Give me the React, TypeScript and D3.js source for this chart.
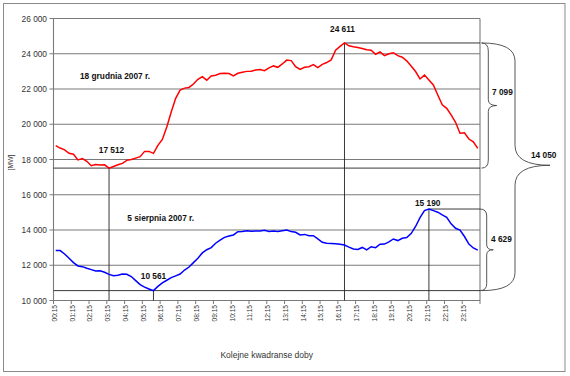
import React from "react";
import * as d3 from "d3";

// ---- data ----
const quarterHours: string[] = (() => {
  const out: string[] = [];
  for (let h = 0; h < 24; h++) {
    for (const m of [15, 30, 45, 60]) {
      const hh = m === 60 ? h + 1 : h;
      const mm = m === 60 ? 0 : m;
      out.push(`${String(hh).padStart(2, "0")}:${String(mm).padStart(2, "0")}`);
    }
  }
  return out;
})();

const xTickLabels = [
  "00:15", "01:15", "02:15", "03:15", "04:15", "05:15", "06:15", "07:15",
  "08:15", "09:15", "10:15", "11:15", "12:15", "13:15", "14:15", "15:15",
  "16:15", "17:15", "18:15", "19:15", "20:15", "21:15", "22:15", "23:15",
];

const yTicks = [10000, 12000, 14000, 16000, 18000, 20000, 22000, 24000, 26000];

// 18 grudnia 2007 r.
const decemberLoad = [
  18785, 18650, 18550, 18350, 18300, 17980, 18050, 17900, 17650, 17720, 17690, 17700,
  17512, 17600, 17700, 17780, 17950, 18000, 18080, 18160, 18460, 18460, 18350, 18800,
  19140, 19850, 20700, 21470, 21940, 22050, 22090, 22280, 22550, 22700, 22500, 22740,
  22780, 22880, 22890, 22880, 22740, 22890, 22950, 23000, 23010, 23080, 23110, 23040,
  23200, 23310, 23230, 23420, 23640, 23610, 23270, 23110, 23230, 23260, 23380, 23210,
  23400, 23500, 23650, 24200, 24420, 24611, 24450, 24400, 24360, 24300, 24230, 24200,
  23970, 24110, 23890, 24000, 24060, 23890, 23800, 23600, 23300, 22990, 22570, 22790,
  22510, 22230, 21660, 21100, 20900, 20530, 20110, 19490, 19520, 19160, 19000, 18630,
];

// 5 sierpnia 2007 r.
const augustLoad = [
  12830, 12830, 12640, 12400, 12150, 11960, 11920, 11830, 11750, 11670, 11690, 11600,
  11480, 11400, 11430, 11500, 11490, 11360, 11130, 10900, 10760, 10650, 10561, 10800,
  11000, 11150, 11300, 11400, 11500, 11730, 11900, 12150, 12400, 12700, 12880, 13000,
  13250, 13430, 13580, 13660, 13720, 13900, 13920, 13960, 13930, 13940, 13940, 13980,
  13920, 13940, 13920, 13960, 14000, 13910, 13870, 13720, 13750, 13670, 13680, 13500,
  13300, 13250, 13240, 13220, 13190, 13150, 13030, 12920, 12900, 13010, 12870, 13050,
  13000, 13190, 13200, 13330, 13490, 13400, 13530, 13570, 13800, 14200, 14700, 15100,
  15190, 15100, 15010, 14860, 14720, 14350, 14100, 14000, 13630, 13200, 12980, 12860,
];

const seriesLabels = ["18 grudnia 2007 r.", "5 sierpnia 2007 r."];
const xTitle = "Kolejne kwadranse doby";
const yTitle = "[MW]";

// ---- layout ----
const W = 570;
const H = 376;
const PL = 53.5;
const PR = 480;
const PT = 18.5;
const PB = 300.5;

const FONT = "'Liberation Sans', Arial, sans-serif";

const fmt = (v: number) => d3.format(",")(v).replace(/,/g, " ");

function brace(x0: number, xv: number, xt: number, yTop: number, yBot: number, yTip: number, r: number, r2: number) {
  const p = d3.path();
  p.moveTo(x0, yTop);
  p.quadraticCurveTo(xv, yTop, xv, yTop + r);
  p.lineTo(xv, yTip - r2);
  p.quadraticCurveTo(xv, yTip, xt, yTip);
  p.quadraticCurveTo(xv, yTip, xv, yTip + r2);
  p.lineTo(xv, yBot - r);
  p.quadraticCurveTo(xv, yBot, x0, yBot);
  return p.toString();
}

export default function App() {
  const x = d3.scaleBand<string>().domain(quarterHours).range([PL, PR]).padding(0);
  const bw = x.bandwidth();
  const cx = (i: number) => (x(quarterHours[i]) as number) + bw / 2;
  const y = d3.scaleLinear().domain([10000, 26000]).range([PB, PT]);

  const line = d3
    .line<number>()
    .x((_, i) => cx(i))
    .y((d) => y(d));

  const redMinI = d3.minIndex(decemberLoad);
  const redMaxI = d3.maxIndex(decemberLoad);
  const blueMinI = d3.minIndex(augustLoad);
  const blueMaxI = d3.maxIndex(augustLoad);
  const redMin = decemberLoad[redMinI];
  const redMax = decemberLoad[redMaxI];
  const blueMin = augustLoad[blueMinI];
  const blueMax = augustLoad[blueMaxI];

  const tickIdx = xTickLabels.map((l) => quarterHours.indexOf(l));
  const boundaries = d3.range(0, quarterHours.length + 1, 4).map((i) => PL + i * bw);

  const annot = "#222";
  const grid = "#7a7a7a";

  const yRMax = y(redMax);
  const yRMin = y(redMin);
  const yBMax = y(blueMax);
  const yBMin = y(blueMin);

  return (
    <svg
      width={W}
      height={H}
      style={{ position: "absolute", left: 0, top: 0, background: "#fff" }}
      fontFamily={FONT}
    >
      <rect x={0} y={0} width={W} height={H} fill="#fff" />
      <rect x={3.5} y={3.5} width={561.5} height={368} fill="none" stroke="#8a8a8a" strokeWidth={1} />

      {/* gridlines */}
      {yTicks.map((t) => (
        <line key={t} x1={PL - 4} x2={PR} y1={y(t)} y2={y(t)} stroke={grid} strokeWidth={1.1} />
      ))}
      {/* plot borders */}
      <line x1={PL} x2={PL} y1={PT} y2={PB} stroke={grid} strokeWidth={1.1} />
      <line x1={PR} x2={PR} y1={PT} y2={PB} stroke={grid} strokeWidth={1.1} />

      {/* y labels */}
      {yTicks.map((t) => (
        <text key={t} x={47} y={y(t) + 3} textAnchor="end" fontSize={8.3} fill="#333">
          {fmt(t)}
        </text>
      ))}
      <text
        transform={`translate(12.8,${(PT + PB) / 2 + 3}) rotate(-90)`}
        textAnchor="middle"
        fontSize={6.8}
        fill="#333"
      >
        {yTitle}
      </text>

      {/* x ticks */}
      {boundaries.map((bx, i) => (
        <line key={i} x1={bx} x2={bx} y1={PB} y2={PB + 3.5} stroke={grid} strokeWidth={1} />
      ))}
      {tickIdx.map((i, k) => {
        const px = PL + i * bw + 1;
        return (
          <text
            key={k}
            transform={`translate(${px + 2.3},${PB + 4.5}) rotate(-90)`}
            textAnchor="end"
            fontSize={6.6}
            fill="#333"
          >
            {xTickLabels[k]}
          </text>
        );
      })}
      <text x={(PL + PR) / 2} y={358} textAnchor="middle" fontSize={8.5} fill="#333">
        {xTitle}
      </text>

      {/* annotation lines */}
      <g stroke={annot} strokeWidth={0.9} fill="none">
        <line x1={cx(redMaxI)} x2={PR} y1={yRMax} y2={yRMax} />
        <line x1={PL} x2={PR} y1={yRMin} y2={yRMin} />
        <line x1={cx(blueMaxI)} x2={PR} y1={yBMax} y2={yBMax} />
        <line x1={PL} x2={PR} y1={yBMin} y2={yBMin} />
        <line x1={cx(redMinI)} x2={cx(redMinI)} y1={yRMin} y2={PB} />
        <line x1={cx(redMaxI)} x2={cx(redMaxI)} y1={yRMax} y2={PB} />
        <line x1={cx(blueMinI)} x2={cx(blueMinI)} y1={yBMin} y2={PB} />
        <line x1={cx(blueMaxI)} x2={cx(blueMaxI)} y1={yBMax} y2={PB} />
      </g>

      {/* braces */}
      <g stroke="#444" strokeWidth={0.9} fill="none">
        <path d={brace(PR + 1.5, PR + 8.3, PR + 16.7, yRMax, yRMin, (yRMax + yRMin) / 2, 8, 6)} />
        <path d={brace(PR + 1.5, PR + 35, PR + 70, yRMax, yBMin, (yRMax + yBMin) / 2 - 1.5, 18, 20)} />
        <path d={brace(PR, PR + 6.7, PR + 13.3, yBMax, yBMin, (yBMax + yBMin) / 2, 7, 5)} />
      </g>

      {/* series */}
      <path d={line(decemberLoad) || ""} fill="none" stroke="#ff0000" strokeWidth={1.5} />
      <path d={line(augustLoad) || ""} fill="none" stroke="#0000ff" strokeWidth={1.5} />

      {/* labels */}
      <g fontWeight="bold" fontSize={8.3} fill="#111">
        <text x={80} y={78.5}>{seriesLabels[0]}</text>
        <text x={127.3} y={220.5}>{seriesLabels[1]}</text>
        <text x={cx(redMinI) + 2.5} y={yRMin - 15} textAnchor="middle">{fmt(redMin)}</text>
        <text x={cx(redMaxI) - 2} y={yRMax - 10.5} textAnchor="middle">{fmt(redMax)}</text>
        <text x={cx(blueMinI)} y={yBMin - 11.5} textAnchor="middle">{fmt(blueMin)}</text>
        <text x={cx(blueMaxI) - 1.2} y={yBMax - 3.5} textAnchor="middle">{fmt(blueMax)}</text>
        <text x={492} y={95}>{fmt(redMax - redMin)}</text>
        <text x={531} y={157.5}>{fmt(redMax - blueMin)}</text>
        <text x={491} y={241.5}>{fmt(blueMax - blueMin)}</text>
      </g>
    </svg>
  );
}
